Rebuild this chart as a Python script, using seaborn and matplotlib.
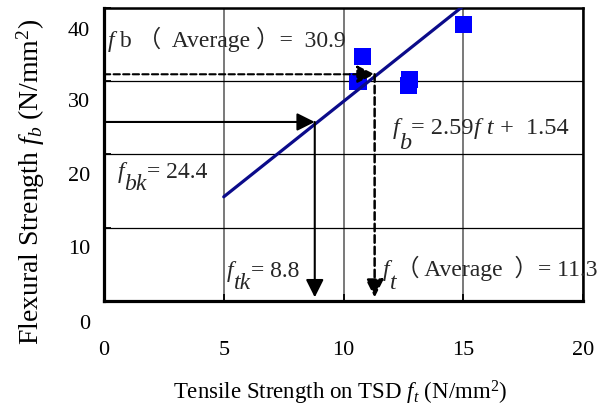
import matplotlib
matplotlib.use("Agg")
import matplotlib.pyplot as plt
import matplotlib.transforms as mtransforms
import seaborn as sns
import pandas as pd

# ---- data ----
tensile = [10.8, 10.6, 12.75, 12.7, 15.0]
flexural = [33.3, 29.9, 30.2, 29.4, 37.7]
fit_x = [5.0, 15.0]
fit_y = [14.2, 40.2]
ftk = 8.8
fbk = 24.4
ft_avg = 11.3
fb_avg = 30.9
x_ticks = [0, 5, 10, 15, 20]
y_ticks = [0, 10, 20, 30, 40]
x_tick_labels = ["0", "5", "10", "15", "20"]
y_tick_labels = ["0", "10", "20", "30", "40"]

sns.set_theme(style="white")
FAM = ['Liberation Serif', 'Noto Sans CJK JP']
plt.rcParams['font.family'] = FAM
plt.rcParams['mathtext.fontset'] = 'custom'
plt.rcParams['mathtext.rm'] = 'Liberation Serif'
plt.rcParams['mathtext.it'] = 'Liberation Serif:italic'

fig = plt.figure(figsize=(6.01, 4.10), dpi=100)
L, R, T, B = 104, 583, 8.5, 302
ax = fig.add_axes([L / 601, 1 - B / 410, (R - L) / 601, (B - T) / 410])

ax.grid(axis='y', color='black', lw=0.9)
ax.grid(axis='x', color='#6e6e6e', lw=1.3)
ax.set_axisbelow(True)

pts = pd.DataFrame({'ft': tensile, 'fb': flexural})
sns.scatterplot(data=pts, x='ft', y='fb', marker='s', s=155, color='#0000FF',
                edgecolor='none', ax=ax, zorder=3, legend=False)
fit = pd.DataFrame({'ft': fit_x, 'fb': fit_y})
sns.lineplot(data=fit, x='ft', y='fb', color='#0B0B8A', lw=2.3, ax=ax, zorder=4)

ax.set_xlim(0, 20)
ax.set_ylim(0, 40)

head = dict(arrowstyle='-|>,head_length=0.6,head_width=0.3', mutation_scale=18,
            color='black', lw=1.5, shrinkA=0, shrinkB=0)
dash = (0, (3, 1.6))
tip_y = 0.5
ax.annotate('', xy=(ftk, fbk), xytext=(0, fbk), arrowprops=head, zorder=6)
ax.annotate('', xy=(ftk, tip_y), xytext=(ftk, fbk), arrowprops=head, zorder=6)
ax.annotate('', xy=(ft_avg, fb_avg), xytext=(0, fb_avg),
            arrowprops=dict(head, linestyle=dash), zorder=6)
ax.annotate('', xy=(ft_avg, tip_y), xytext=(ft_avg, fb_avg),
            arrowprops=dict(head, linestyle=dash, lw=1.8), zorder=6)


def rich(x, y, pieces, size=17):
    prev = None
    for txt, style, drop in pieces:
        kw = dict(fontsize=size, fontstyle=style, family=FAM, ha='left',
                  va='baseline', zorder=7, annotation_clip=False,
                  textcoords='offset points', xytext=(0, -drop))
        if prev is None:
            prev = ax.annotate(txt, xy=(x, y), xycoords='data', **kw)
        else:
            prev = ax.annotate(txt, xy=(1, y), xycoords=(prev, 'data'), **kw)


rich(0.15, 34.7, [("f", 'italic', 0), (" b （  Average ）=  30.9", 'normal', 0)])
rich(12.05, 22.96, [("f", 'italic', 0), ("b", 'italic', 11), ("= 2.59", 'normal', 0),
                    ("f t", 'italic', 0), (" +  1.54", 'normal', 0)], size=17.5)
rich(0.58, 16.9, [("f", 'italic', 0), ("bk", 'italic', 8.8), ("= 24.4", 'normal', 0)])
rich(5.14, 3.38, [("f", 'italic', 0), ("tk", 'italic', 8.4), ("= 8.8", 'normal', 0)])
rich(11.65, 3.5, [("f", 'italic', 0), ("t", 'italic', 9), ("（ Average  ）= 11.3", 'normal', 0)])

ax.set_xticks(x_ticks, x_tick_labels)
ax.set_yticks(y_ticks, y_tick_labels)
ax.tick_params(axis='both', direction='in', length=5, width=1.3, colors='black',
               labelsize=16, left=True, bottom=True)
ax.tick_params(axis='y', pad=10)
ax.tick_params(axis='x', pad=28)

for side, lw in (('left', 2.3), ('bottom', 2.3), ('top', 1.8), ('right', 1.8)):
    ax.spines[side].set_visible(True)
    ax.spines[side].set_color('black')
    ax.spines[side].set_linewidth(lw)

ax.set_xlabel(r'Tensile Strength on TSD $f_t$ (N/mm$^2$)', fontsize=16.5, color='black')
ax.set_ylabel(r'Flexural Strength $f_b$ (N/mm$^2$)', fontsize=20, color='black')
ax.xaxis.set_label_coords(0.493, -0.262)
ax.yaxis.set_label_coords(-0.12, 0.41)

fig.canvas.draw()
shift_px = [20, 18, 19, 18, 21]
for tick, dpx in zip(ax.yaxis.get_major_ticks(), shift_px):
    lab = tick.label1
    lab.set_transform(lab.get_transform() +
                      mtransforms.ScaledTranslation(0, -dpx / 100, fig.dpi_scale_trans))

fig.savefig('out.png', dpi=100)
